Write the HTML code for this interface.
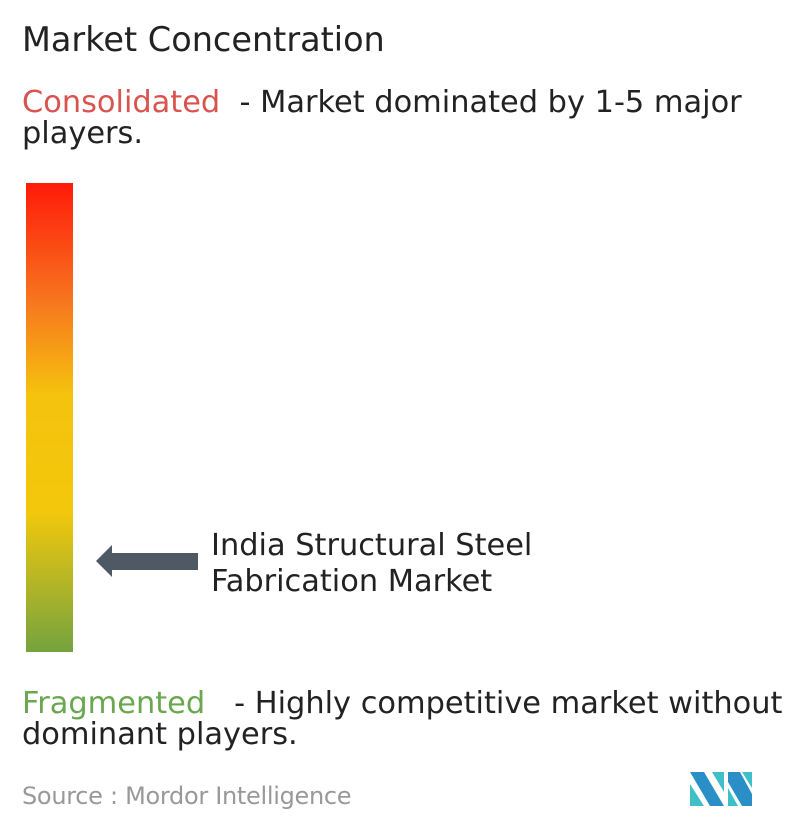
<!DOCTYPE html>
<html><head><meta charset="utf-8"><style>
body{margin:0;width:796px;height:834px;background:#fff;position:relative;overflow:hidden;font-family:"DejaVu Sans","Liberation Sans",sans-serif;color:#222}
.t{position:absolute;white-space:nowrap;font-size:30.4px;line-height:31px}
</style></head><body>
<div class="t" style="left:22px;top:22px;font-size:33.5px;line-height:36px">Market Concentration</div>
<div class="t" style="left:22px;top:87px"><span style="color:#d9534f">Consolidated</span>&nbsp; - Market dominated by 1-5 major<br>players.</div>
<div style="position:absolute;left:26px;top:183px;width:47px;height:469px;background:linear-gradient(to bottom,#ff1a0a 0%,#f7751e 25%,#f5c20e 45%,#f2c80c 70%,#a8b22a 88%,#74a33e 100%)"></div>
<svg style="position:absolute;left:0;top:0" width="796" height="834"><polygon points="96,561 112,545 112,553 198,553 198,570 112,570 112,577" fill="#4f5966"/></svg>
<div class="t" style="left:211px;top:528px;line-height:36px">India Structural Steel<br>Fabrication Market</div>
<div class="t" style="left:22px;top:688px"><span style="color:#6aa84f">Fragmented</span>&nbsp;&nbsp; - Highly competitive market without<br>dominant players.</div>
<div class="t" style="left:22px;top:781px;font-size:24px;color:#999;letter-spacing:-0.3px">Source :&nbsp;Mordor Intelligence</div>
<svg style="position:absolute;left:690px;top:772px" width="66" height="36">
<polygon points="0,0 14,0 34,34 20,34" fill="#2a8fc7"/><polygon points="0,12 14,34 0,34" fill="#3fc0c8"/>
<polygon points="22,0 34,0 34,20" fill="#3fc0c8"/><polygon points="38,0 50,0 62,22 62,34 52,34 38,10" fill="#2a8fc7"/>
<polygon points="52,0 62,0 62,16" fill="#3fc0c8"/><polygon points="38,16 48,34 38,34" fill="#3fc0c8"/></svg>
</body></html>
